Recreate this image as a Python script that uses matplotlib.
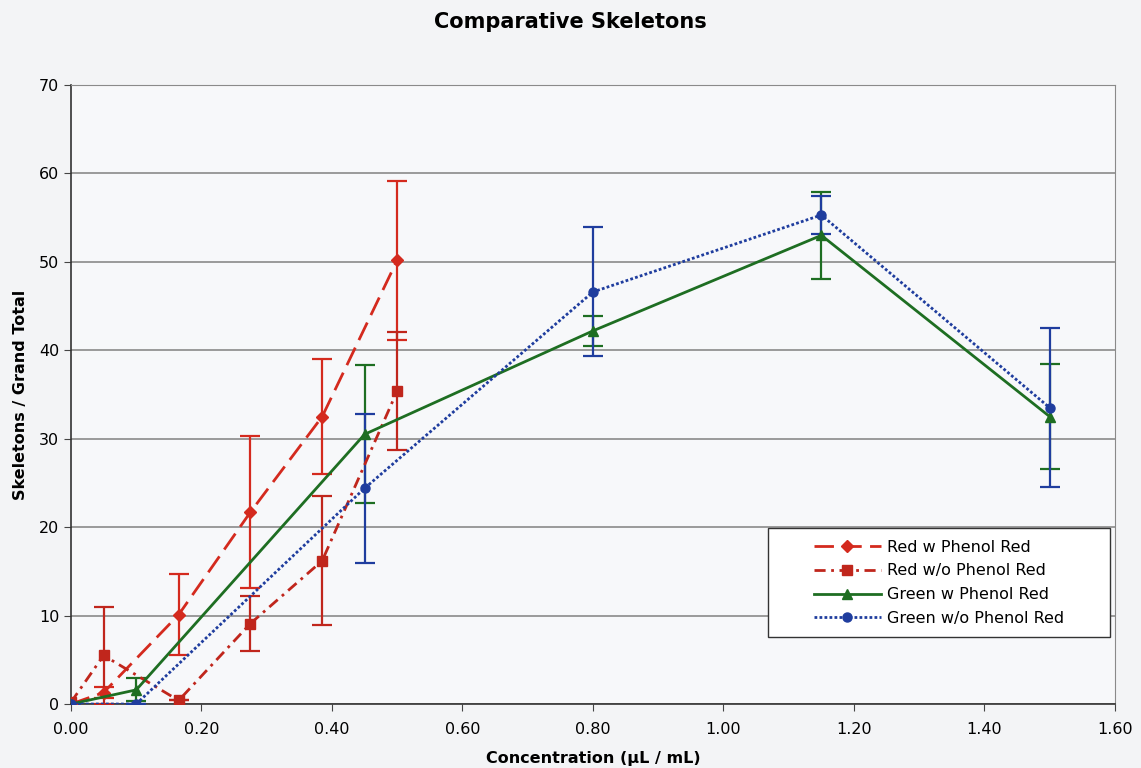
import matplotlib.pyplot as plt
from matplotlib.lines import Line2D
from matplotlib.patches import Rectangle
import numpy as np

# concentration (uL / mL)
x_red = [0.0, 0.05, 0.165, 0.275, 0.385, 0.5]
x_green = [0.0, 0.1, 0.45, 0.8, 1.15, 1.5]

red_w = [0.0, 1.3, 10.1, 21.7, 32.5, 50.2]
red_w_err = [0.0, 0.6, 4.6, 8.6, 6.5, 9.0]
red_wo = [0.2, 5.5, 0.4, 9.1, 16.2, 35.4]
red_wo_err = [0.0, 5.5, 0.0, 3.1, 7.3, 6.7]
green_w = [0.0, 1.6, 30.5, 42.2, 53.0, 32.5]
green_w_err = [0.0, 1.3, 7.8, 1.7, 4.9, 5.9]
green_wo = [0.0, 0.0, 24.4, 46.6, 55.3, 33.5]
green_wo_err = [0.0, 0.0, 8.4, 7.3, 2.2, 9.0]

labels = ['Red w Phenol Red', 'Red w/o Phenol Red',
          'Green w Phenol Red', 'Green w/o Phenol Red']

plt.rcParams['font.family'] = ['DejaVu Sans']

fig = plt.figure(figsize=(11.41, 7.68), dpi=100)
fig.patch.set_facecolor('#f3f4f6')
ax = fig.add_axes([0.0622, 0.0833, 0.9150, 0.8060])
ax.set_facecolor('#f7f8fa')

series = [
    (x_red, red_w, red_w_err, '#d42a1e', 'D', (0, (7, 3)), 6),
    (x_red, red_wo, red_wo_err, '#c0261c', 's', (0, (4, 2, 1, 2)), 7),
    (x_green, green_w, green_w_err, '#1e6e22', '^', '-', 7),
    (x_green, green_wo, green_wo_err, '#1f3d9e', 'o', (0, (1, 0.8)), 6.5),
]

handles = []
for (xs, ys, es, col, mk, ls, ms), lab in zip(series, labels):
    ax.errorbar(xs, ys, yerr=es, color=col, ecolor=col, marker=mk,
                markersize=ms, linestyle=ls, linewidth=2.0,
                elinewidth=1.6, capsize=7, capthick=1.6, zorder=3)
    # legend shows only line + marker, no error bar
    handles.append(Line2D([], [], color=col, marker=mk, markersize=ms,
                          linestyle=ls, linewidth=2.0, label=lab))

ax.set_xlim(0, 1.6)
ax.set_ylim(0, 70)
ax.set_xticks(np.arange(0, 1.61, 0.2))
ax.set_xticklabels(['%.2f' % v for v in np.arange(0, 1.61, 0.2)])
ax.set_yticks(range(0, 71, 10))
ax.tick_params(labelsize=11.5, direction='out', length=5, color='#444444')
ax.tick_params(axis='x', pad=8)
ax.yaxis.grid(True, color='#8a8a8a', linewidth=1.2)
ax.set_axisbelow(True)
for side in ['top', 'right']:
    ax.spines[side].set_color('#8a8a8a')
for side in ['left', 'bottom']:
    ax.spines[side].set_color('#333333')
    ax.spines[side].set_linewidth(1.2)

ax.set_xlabel('Concentration (\u00b5L / mL)', fontsize=11.5,
              fontweight='bold', labelpad=10)
ax.set_ylabel('Skeletons / Grand Total', fontsize=11.5,
              fontweight='bold', labelpad=8)
fig.suptitle('Comparative Skeletons', fontsize=15, fontweight='bold',
             y=0.985)

# legend box drawn separately so the entries sit centred in a wider frame
box = (0.668, 0.108, 0.327, 0.176)
ax.add_patch(Rectangle(box[:2], box[2], box[3], transform=ax.transAxes,
                       facecolor='white', edgecolor='#333333',
                       linewidth=1.0, zorder=4))
leg = ax.legend(handles=handles, loc='center',
                bbox_to_anchor=(box[0] + box[2] / 2, box[1] + box[3] / 2),
                frameon=False, fontsize=11.5, handlelength=4.2,
                handletextpad=0.4, labelspacing=0.55)
leg.set_zorder(5)

fig.savefig('out.png', dpi=100, facecolor=fig.get_facecolor())
